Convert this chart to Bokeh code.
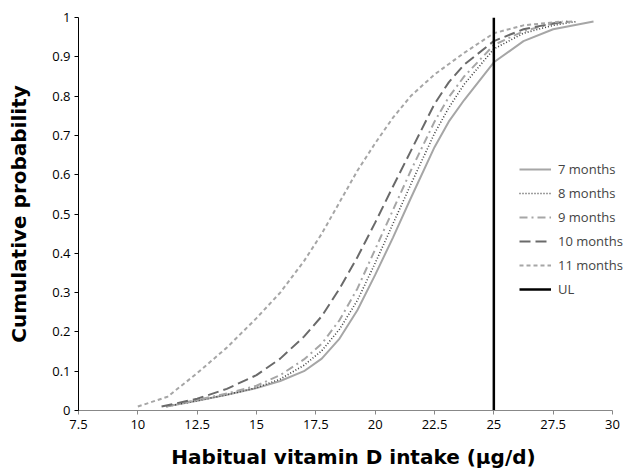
from bokeh.plotting import figure
from bokeh.models import FixedTicker, Legend, LegendItem, Range1d
from bokeh.embed import file_html
from bokeh.resources import INLINE

# ---- data ----
x_7m = [11.2, 12.5, 13.75, 15, 16, 17, 17.75, 18.5, 19.25, 20, 20.75, 21.5, 22.5, 23.1, 23.75, 25, 26.25, 27.5, 29.2]
y_7m = [0.01, 0.025, 0.04, 0.057, 0.075, 0.10, 0.132, 0.183, 0.255, 0.345, 0.44, 0.54, 0.67, 0.735, 0.79, 0.886, 0.94, 0.97, 0.99]

x_8m = [11.2, 12.5, 13.75, 15, 16, 17, 17.75, 18.5, 19.25, 20, 20.75, 21.5, 22.5, 23.1, 23.75, 25, 26.25, 27.5, 28.5]
y_8m = [0.01, 0.025, 0.04, 0.058, 0.08, 0.115, 0.152, 0.207, 0.28, 0.375, 0.475, 0.575, 0.705, 0.77, 0.83, 0.92, 0.96, 0.98, 0.99]

x_9m = [11.2, 12.5, 13.75, 15, 16, 17, 17.75, 18.5, 19.25, 20, 20.75, 21.5, 22.5, 23.1, 23.75, 25, 26.25, 27.5, 28.3]
y_9m = [0.01, 0.027, 0.043, 0.063, 0.09, 0.13, 0.17, 0.23, 0.31, 0.41, 0.51, 0.61, 0.735, 0.797, 0.85, 0.93, 0.965, 0.985, 0.99]

x_10m = [11.0, 12.5, 13.75, 15, 16, 17, 17.75, 18.5, 19.25, 20, 20.75, 21.5, 22.5, 23.1, 23.75, 25, 26.25, 27.5, 28.1]
y_10m = [0.01, 0.03, 0.055, 0.09, 0.132, 0.188, 0.24, 0.31, 0.39, 0.478, 0.57, 0.66, 0.78, 0.835, 0.88, 0.94, 0.97, 0.985, 0.99]

x_11m = [10.0, 11.25, 12.5, 13.75, 15, 16, 17, 17.75, 18.5, 19.25, 20, 20.75, 21.5, 22.5, 23.75, 25, 26.25, 27.9]
y_11m = [0.01, 0.035, 0.095, 0.16, 0.235, 0.30, 0.38, 0.45, 0.53, 0.61, 0.68, 0.745, 0.80, 0.855, 0.91, 0.96, 0.98, 0.99]

ul_x = [25, 25]
ul_y = [0, 1]

x_ticks = [7.5, 10, 12.5, 15, 17.5, 20, 22.5, 25, 27.5, 30]
x_tick_labels = ["7.5", "10", "12.5", "15", "17.5", "20", "22.5", "25", "27.5", "30"]
y_ticks = [0, 0.1, 0.2, 0.3, 0.4, 0.5, 0.6, 0.7, 0.8, 0.9, 1]
y_tick_labels = ["0", "0.1", "0.2", "0.3", "0.4", "0.5", "0.6", "0.7", "0.8", "0.9", "1"]

# ---- figure ----
W, H = 628, 471
LEFT, RIGHT_AXIS_PX = 78, 612          # frame left edge and pixel of x = 30
px_per_unit = (RIGHT_AXIS_PX - LEFT) / (x_ticks[-1] - x_ticks[0])
x_end = x_ticks[-1] + (W - RIGHT_AXIS_PX) / px_per_unit   # frame runs to canvas edge so legend text is not cut

p = figure(width=W, height=H, x_range=Range1d(x_ticks[0], x_end), y_range=Range1d(0, 1),
           output_backend="svg", toolbar_location=None,
           min_border_left=LEFT, min_border_right=0, min_border_top=17, min_border_bottom=60)
p.outline_line_color = None
p.xgrid.visible = False
p.ygrid.visible = False
p.background_fill_color = "white"

TICK_FONT = "Open Sans"
TITLE_FONT = "DejaVu Sans"
p.xaxis.ticker = FixedTicker(ticks=x_ticks)
p.xaxis.major_label_overrides = {t: l for t, l in zip(x_ticks, x_tick_labels)}
p.xaxis.bounds = (x_ticks[0], x_ticks[-1])
p.yaxis.ticker = FixedTicker(ticks=y_ticks)
p.yaxis.major_label_overrides = {t: l for t, l in zip(y_ticks, y_tick_labels)}
for ax in (p.xaxis, p.yaxis):
    ax.minor_tick_line_color = None
    ax.major_tick_in = 0
    ax.major_tick_out = 4
    ax.major_label_text_font = TICK_FONT
    ax.major_label_text_font_size = "13px"
    ax.major_label_text_color = "#000000"
    ax.axis_label_text_font = TITLE_FONT
    ax.axis_label_text_font_style = "bold"
    ax.axis_label_text_font_size = "20px"
    ax.axis_label_text_color = "#000000"
p.xaxis.axis_line_color = "#888888"
p.xaxis.major_tick_line_color = "#888888"
p.yaxis.axis_line_color = "#000000"
p.yaxis.major_tick_line_color = "#000000"
p.xaxis.axis_label = "Habitual vitamin D intake (µg/d)"
p.yaxis.axis_label = "Cumulative probability"
p.xaxis.major_label_standoff = 5
p.yaxis.major_label_standoff = 4
p.xaxis.axis_label_standoff = 13
p.yaxis.axis_label_standoff = 18

r7 = p.line(x_7m, y_7m, line_color="#a6a6a6", line_width=2)
r8 = p.line(x_8m, y_8m, line_color="#404040", line_width=1.6, line_dash="1 2")
r9 = p.line(x_9m, y_9m, line_color="#a6a6a6", line_width=2, line_dash="8 4 2 4")
r10 = p.line(x_10m, y_10m, line_color="#6a6a6a", line_width=2, line_dash="11 5")
r11 = p.line(x_11m, y_11m, line_color="#a6a6a6", line_width=2, line_dash="4 3")
rul = p.line(ul_x, ul_y, line_color="#000000", line_width=2.5)

legend = Legend(items=[
    LegendItem(label="7 months", renderers=[r7]),
    LegendItem(label="8 months", renderers=[r8]),
    LegendItem(label="9 months", renderers=[r9]),
    LegendItem(label="10 months", renderers=[r10]),
    LegendItem(label="11 months", renderers=[r11]),
    LegendItem(label="UL", renderers=[rul]),
], location=(441, 111))
legend.background_fill_alpha = 0
legend.border_line_color = None
legend.label_text_font = TICK_FONT
legend.label_text_font_size = "13px"
legend.glyph_width = 32
legend.glyph_height = 20
legend.label_height = 20
legend.spacing = 4
legend.label_standoff = 7
legend.padding = 0
legend.margin = 0
p.add_layout(legend, "center")

open("out.html", "w").write(file_html(p, INLINE))
